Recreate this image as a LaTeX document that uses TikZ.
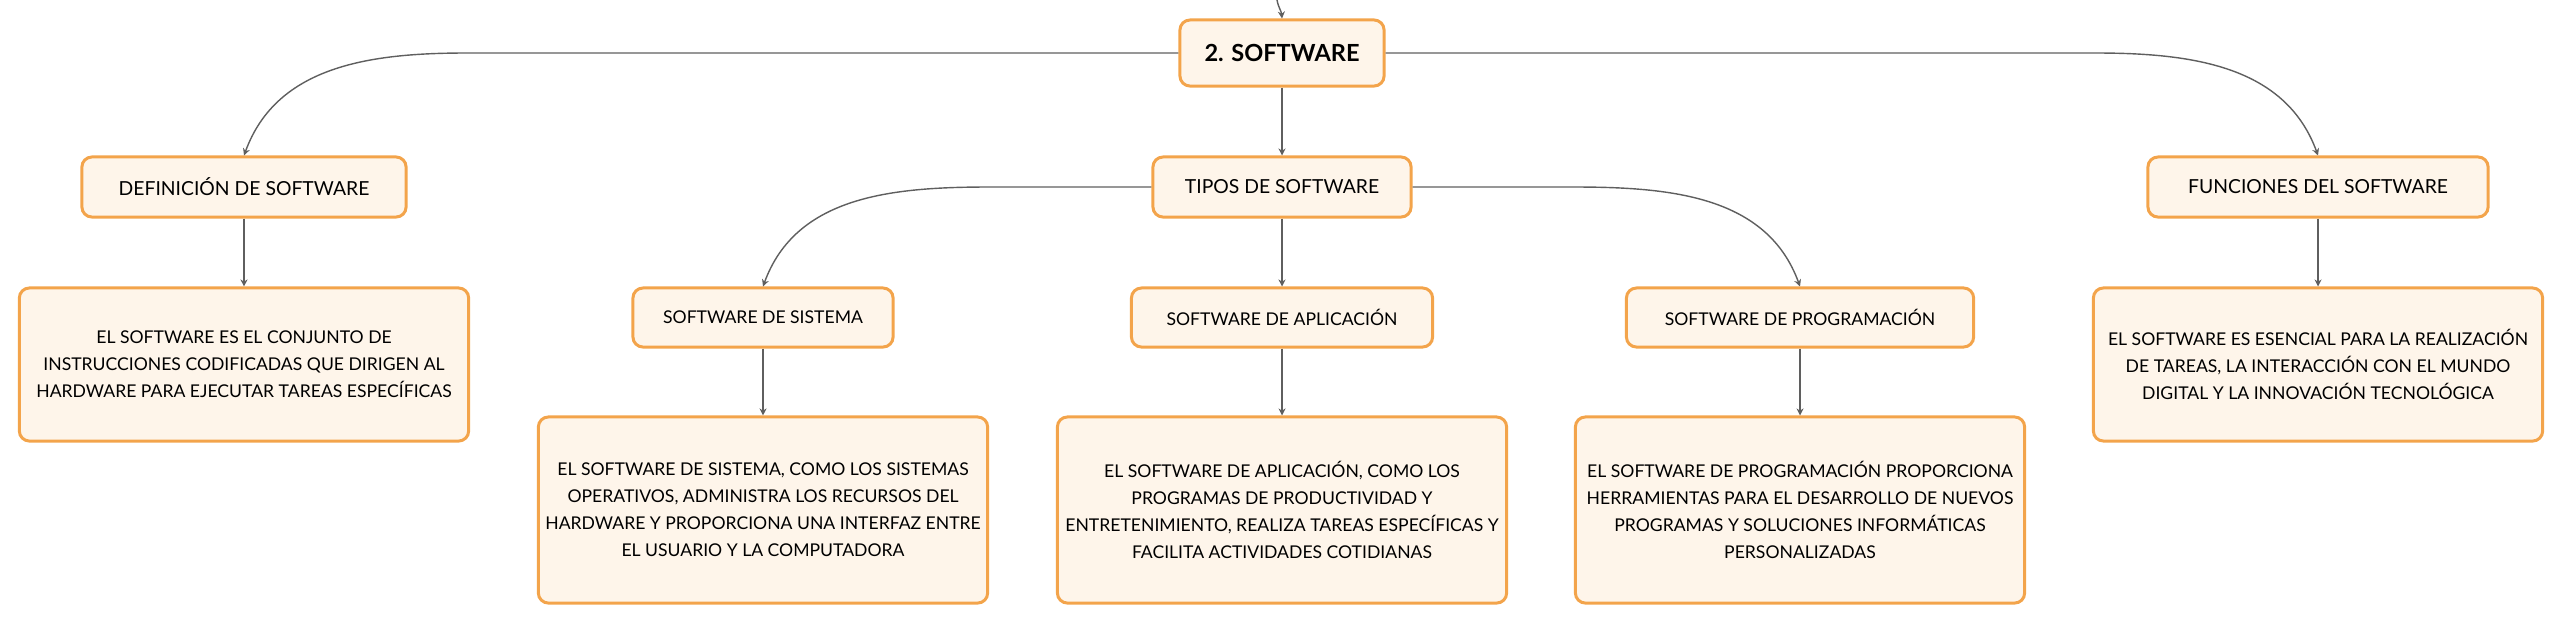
\documentclass[tikz,border=0pt]{standalone}
\usepackage{fontspec}
\setmainfont{Lato}
\usetikzlibrary{arrows.meta}
\definecolor{boxorange}{HTML}{F3A44B}
\definecolor{boxfill}{HTML}{FEF5EA}
\definecolor{linegrey}{HTML}{5F5F5F}
\tikzset{
  box/.style={draw=boxorange, fill=boxfill, line width=0.85pt, rounded corners=0.1cm,
    inner sep=0pt, align=center, font=\fontsize{5.5}{7.7}\selectfont},
  topic/.style={box, minimum height=0.6cm},
  subtopic/.style={box, minimum height=0.59cm, font=\fontsize{5}{7.7}\selectfont},
  note/.style={box, minimum width=4.49cm, font=\fontsize{5}{7.7}\selectfont},
  link/.style={draw=linegrey, line width=0.4pt, -{Stealth[length=2pt,width=2pt]}}
}
\begin{document}
\begin{tikzpicture}[x=0.01cm, y=-0.01cm]
          \useasboundingbox (0,0) rectangle (2564,624);
          % main topic
          \coordinate (parent) at (1277,0);
          \node[box, minimum width=2.04cm, minimum height=0.66cm, font=\bfseries\fontsize{6.7}{8}\selectfont] (root) at (1282,53) {2. SOFTWARE};
          % first level
          \node[topic, minimum width=3.24cm] (def) at (244,187) {DEFINICIÓN DE SOFTWARE};
          \node[topic, minimum width=2.58cm] (tipos) at (1282,187) {TIPOS DE SOFTWARE};
          \node[topic, minimum width=3.40cm] (func) at (2318,187) {FUNCIONES DEL SOFTWARE};
          % second level
          \node[subtopic, minimum width=2.60cm] (sis) at (763,317.5) {SOFTWARE DE SISTEMA};
          \node[subtopic, minimum width=3.01cm] (apl) at (1282,317.5) {SOFTWARE DE APLICACIÓN};
          \node[subtopic, minimum width=3.47cm] (prog) at (1800,317.5) {SOFTWARE DE PROGRAMACIÓN};
          % notes
          \node[note, minimum height=1.53cm] (defnote) at (244,364.5) {EL SOFTWARE ES EL CONJUNTO DE\\INSTRUCCIONES CODIFICADAS QUE DIRIGEN AL\\HARDWARE PARA EJECUTAR TAREAS ESPECÍFICAS};
          \node[note, minimum height=1.53cm] (funcnote) at (2318,364.5) {EL SOFTWARE ES ESENCIAL PARA LA REALIZACIÓN\\DE TAREAS, LA INTERACCIÓN CON EL MUNDO\\DIGITAL Y LA INNOVACIÓN TECNOLÓGICA};
          \node[note, minimum height=1.86cm] (sisnote) at (763,510) {EL SOFTWARE DE SISTEMA, COMO LOS SISTEMAS\\OPERATIVOS, ADMINISTRA LOS RECURSOS DEL\\HARDWARE Y PROPORCIONA UNA INTERFAZ ENTRE\\EL USUARIO Y LA COMPUTADORA};
          \node[note, minimum height=1.86cm] (aplnote) at (1282,510) {EL SOFTWARE DE APLICACIÓN, COMO LOS\\PROGRAMAS DE PRODUCTIVIDAD Y\\ENTRETENIMIENTO, REALIZA TAREAS ESPECÍFICAS Y\\FACILITA ACTIVIDADES COTIDIANAS};
          \node[note, minimum height=1.86cm] (prognote) at (1800,510) {EL SOFTWARE DE PROGRAMACIÓN PROPORCIONA\\HERRAMIENTAS PARA EL DESARROLLO DE NUEVOS\\PROGRAMAS Y SOLUCIONES INFORMÁTICAS\\PERSONALIZADAS};
          % bends
          \coordinate (lbend) at (467,53);
          \coordinate (rbend) at (2095,53);
          \coordinate (sbend) at (990,187);
          \coordinate (pbend) at (1573,187);
          % connectors
          \draw[link] (parent) to[out=-80,in=95] (root.north);
          \draw[link] (root.west) -- (lbend) to[out=180,in=70] (def.north);
          \draw[link] (root.east) -- (rbend) to[out=0,in=110] (func.north);
          \draw[link] (root) -- (tipos);
          \draw[link] (tipos.west) -- (sbend) to[out=180,in=70] (sis.north);
          \draw[link] (tipos.east) -- (pbend) to[out=0,in=110] (prog.north);
          \draw[link] (tipos) -- (apl);
          \draw[link] (def) -- (defnote);
          \draw[link] (func) -- (funcnote);
          \draw[link] (sis) -- (sisnote);
          \draw[link] (apl) -- (aplnote);
          \draw[link] (prog) -- (prognote);
        \end{tikzpicture}
\end{document}
